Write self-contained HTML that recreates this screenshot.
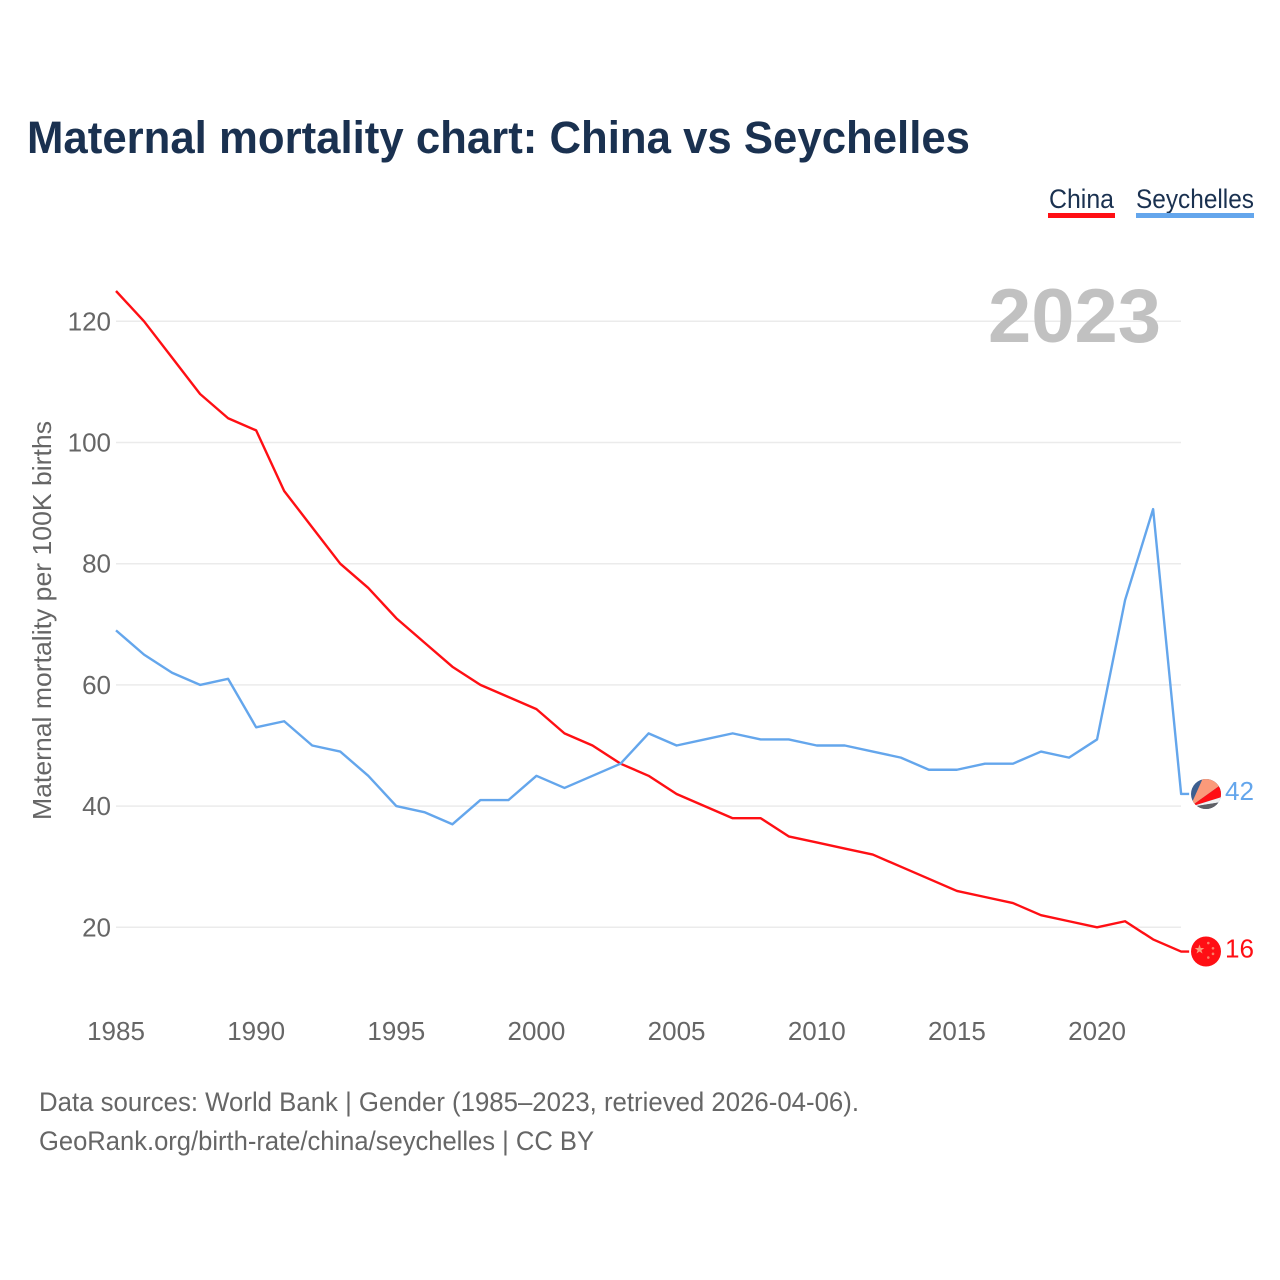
<!DOCTYPE html>
<html lang="en">
<head>
<meta charset="utf-8">
<title>Maternal mortality chart: China vs Seychelles</title>
<style>
html,body{margin:0;padding:0;background:#fff}
svg{display:block}
text{font-family:"Liberation Sans",sans-serif}
</style>
</head>
<body>
<svg id="chart" xmlns="http://www.w3.org/2000/svg" width="1280" height="1280" viewBox="0 0 1280 1280">
  <rect width="1280" height="1280" fill="#ffffff"/>
  <text x="27" y="153" font-size="45" font-weight="700" fill="#1a3150" textLength="943" lengthAdjust="spacingAndGlyphs">Maternal mortality chart: China vs Seychelles</text>

  <g>
    <text x="1049" y="208" font-size="27" fill="#1a3150" textLength="65" lengthAdjust="spacingAndGlyphs">China</text>
    <rect x="1048" y="213" width="67" height="5" fill="#ff0f14"/>
  </g>
  <g>
    <text x="1136" y="208" font-size="27" fill="#1a3150" textLength="118" lengthAdjust="spacingAndGlyphs">Seychelles</text>
    <rect x="1136" y="213" width="118" height="5" fill="#64a6ec"/>
  </g>

  <g id="grid"></g>
  <text x="988" y="342" font-size="76" font-weight="700" fill="#c1c1c1" textLength="173" lengthAdjust="spacingAndGlyphs">2023</text>
  <g id="yticks"></g>
  <g id="xticks"></g>
  <text transform="translate(51,820) rotate(-90)" font-size="26" fill="#666666" textLength="399" lengthAdjust="spacingAndGlyphs">Maternal mortality per 100K births</text>
  <g id="series"></g>
  <defs>
    <clipPath id="clip-sc"><circle id="clip-sc-circle" cx="1206" cy="793" r="15"/></clipPath>
    <clipPath id="clip-cn"><circle id="clip-cn-circle" cx="1206" cy="951" r="15"/></clipPath>
  </defs>
  <g id="markers"></g>

  <text x="39" y="1111" font-size="27" fill="#666666" textLength="820" lengthAdjust="spacingAndGlyphs">Data sources: World Bank | Gender (1985–2023, retrieved 2026-04-06).</text>
  <text x="39" y="1150" font-size="27" fill="#666666" textLength="555" lengthAdjust="spacingAndGlyphs">GeoRank.org/birth-rate/china/seychelles | CC BY</text>
</svg>
<script>
const years = [1985,1986,1987,1988,1989,1990,1991,1992,1993,1994,1995,1996,1997,1998,1999,2000,2001,2002,2003,2004,2005,2006,2007,2008,2009,2010,2011,2012,2013,2014,2015,2016,2017,2018,2019,2020,2021,2022,2023];
const china = [125,120,114,108,104,102,92,86,80,76,71,67,63,60,58,56,52,50,47,45,42,40,38,38,35,34,33,32,30,28,26,25,24,22,21,20,21,18,16];
const seychelles = [69,65,62,60,61,53,54,50,49,45,40,39,37,41,41,45,43,45,47,52,50,51,52,51,51,50,50,49,48,46,46,47,47,49,48,51,74,89,42];
const yTickValues = [20,40,60,80,100,120];
const xTickValues = [1985,1990,1995,2000,2005,2010,2015,2020];

const NS = 'http://www.w3.org/2000/svg';
const xScale = function (yr) { return 116 + (yr - 1985) * 28.03; };
const yScale = function (v) { return 927.3 - (v - 20) * 6.06; };
function make(tag, attrs, parent) {
  const el = document.createElementNS(NS, tag);
  for (const k in attrs) el.setAttribute(k, attrs[k]);
  parent.appendChild(el);
  return el;
}
const grid = document.getElementById('grid');
const yticks = document.getElementById('yticks');
const xticks = document.getElementById('xticks');
const seriesG = document.getElementById('series');
const markers = document.getElementById('markers');

yTickValues.forEach(function (v) {
  const line = make('line', {x1: 116, x2: 1181, y1: yScale(v), y2: yScale(v), stroke: '#ebebeb', 'stroke-width': 1.5}, grid);
  
  
  const t = make('text', {x: 111, y: yScale(v) + 9, 'text-anchor': 'end', 'font-size': 26, fill: '#666666'}, yticks);
  
  
  t.textContent = v;
});
xTickValues.forEach(function (yr) {
  const t = make('text', {x: xScale(yr), y: 1040, 'text-anchor': 'middle', 'font-size': 26, fill: '#666666'}, xticks);
  
  
  t.textContent = yr;
});

function drawLine(vals, color, name, tail) {
  const pts = vals.map(function (v, i) { return xScale(years[i]) + ',' + yScale(v); });
  const last = vals[vals.length - 1];
  pts.push((xScale(years[years.length - 1]) + tail) + ',' + yScale(last));
  const p = make('polyline', {points: pts.join(' '), fill: 'none', stroke: color, 'stroke-width': 2.4, 'stroke-linejoin': 'round'}, seriesG);
  
  
}
drawLine(china, '#ff0f14', 'line-china', 8);
drawLine(seychelles, '#64a6ec', 'line-seychelles', 8);

const lastC = china[china.length - 1];
const lastS = seychelles[seychelles.length - 1];
const cy = yScale(lastC);
const sy = yScale(lastS);
const fx = 1206;
document.getElementById('clip-cn-circle').setAttribute('cy', cy);
document.getElementById('clip-sc-circle').setAttribute('cy', sy);

// Seychelles flag marker: bands fan out from the lower-left corner
const sc = make('g', {'clip-path': 'url(#clip-sc)'}, markers);


const ox = fx - 16;
const oy = sy + 13;
make('rect', {x: fx - 16, y: sy - 16, width: 32, height: 32, fill: '#3d5f8f'}, sc);
make('polygon', {points: [[ox,oy],[fx-3,sy-16],[fx+16,sy-16],[fx+16,sy-10]].map(String).join(' '), fill: '#fb9a7a'}, sc);
make('polygon', {points: [[ox,oy],[fx+16,sy-10],[fx+16,sy+3]].map(String).join(' '), fill: '#ff0f14'}, sc);
make('polygon', {points: [[ox,oy],[fx+16,sy+3],[fx+16,sy+8]].map(String).join(' '), fill: '#f2f2f2'}, sc);
make('polygon', {points: [[ox,oy],[fx+16,sy+8],[fx+16,sy+16],[fx-16,sy+16]].map(String).join(' '), fill: '#5f6065'}, sc);

// China flag marker
const cn = make('g', {'clip-path': 'url(#clip-cn)'}, markers);


make('rect', {x: fx - 16, y: cy - 16, width: 32, height: 32, fill: '#ff0f14'}, cn);
make('polygon', {points: [[fx-6.5,cy-7],[fx-5.3,cy-3.6],[fx-1.7,cy-3.5],[fx-4.6,cy-1.3],[fx-3.5,cy+2],[fx-6.5,cy],[fx-9.5,cy+2],[fx-8.4,cy-1.3],[fx-11.3,cy-3.5],[fx-7.7,cy-3.6]].map(String).join(' '), fill: '#fb9a7a'}, cn);
[[2.3,-8.5],[7,-3.3],[7,2.3],[2.3,6]].forEach(function (d) {
  make('circle', {cx: fx + d[0], cy: cy + d[1], r: 1.3, fill: '#fb8068'}, cn);
});

const labS = make('text', {x: 1225, y: sy + 6, 'font-size': 26, fill: '#64a6ec', textLength: 29, lengthAdjust: 'spacingAndGlyphs'}, markers);


labS.textContent = lastS;
const labC = make('text', {x: 1225, y: cy + 6, 'font-size': 26, fill: '#ff0f14', textLength: 29, lengthAdjust: 'spacingAndGlyphs'}, markers);


labC.textContent = lastC;
</script>
</body>
</html>
